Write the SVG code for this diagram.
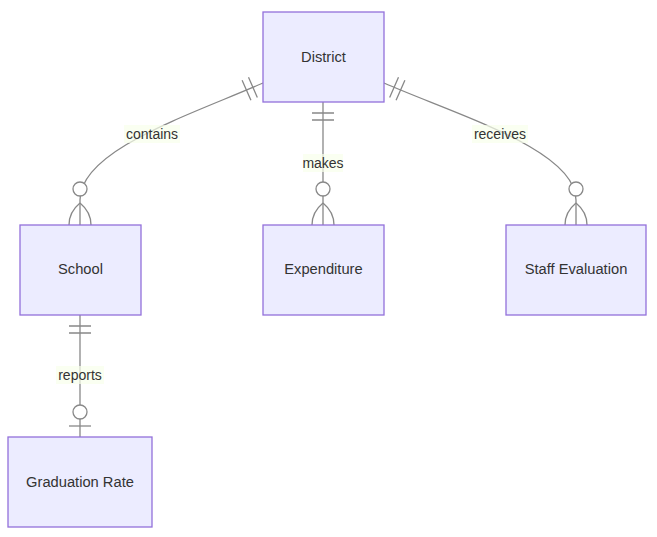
<svg xmlns="http://www.w3.org/2000/svg" width="657" height="537" viewBox="0 0 657 537">
<style>
.box{fill:#ECECFF;stroke:#9370DB;stroke-width:1.3}
.lbl{font-family:"Liberation Sans",Arial,sans-serif;font-size:14px;fill:#333;text-anchor:middle;dominant-baseline:central}
.nl{font-size:14.7px}
.rel{fill:none;stroke:#888;stroke-width:1.3}
.lbg{fill:hsl(80,100%,96%);opacity:0.7}
.mk{fill:none;stroke:#888;stroke-width:1.3}
</style>
<defs>
<marker id="one" markerUnits="userSpaceOnUse" orient="auto-start-reverse" refX="0" refY="0" markerWidth="40" markerHeight="40" viewBox="-30 -15 40 30" overflow="visible">
<path class="mk" d="M-11,-11 L-11,11 M-18,-11 L-18,11"/>
</marker>
<marker id="many0" markerUnits="userSpaceOnUse" orient="auto" refX="0" refY="0" markerWidth="50" markerHeight="40" viewBox="-45 -15 50 30" overflow="visible">
<path class="mk" d="M-22,0 Q-13,-11 0,-11 M-22,0 Q-13,11 0,11"/>
<circle cx="-36" cy="0" r="7" fill="#fff" stroke="#888" stroke-width="1.3"/>
</marker>
<marker id="one0" markerUnits="userSpaceOnUse" orient="auto" refX="0" refY="0" markerWidth="50" markerHeight="40" viewBox="-45 -15 50 30" overflow="visible">
<path class="mk" d="M-11,-11 L-11,11"/>
<circle cx="-25" cy="0" r="7" fill="#fff" stroke="#888" stroke-width="1.3"/>
</marker>
</defs>
<rect width="657" height="537" fill="#fff"/>
<g id="connectors">
<path class="rel" d="M263,83 C190,115 80,150 80,200 L80,225" marker-start="url(#one)" marker-end="url(#many0)"/>
<path class="rel" d="M323,102 L323,225" marker-start="url(#one)" marker-end="url(#many0)"/>
<path class="rel" d="M384,83 C457,115 576,150 576,200 L576,225" marker-start="url(#one)" marker-end="url(#many0)"/>
<path class="rel" d="M80,315 L80,437" marker-start="url(#one)" marker-end="url(#one0)"/>
<rect class="lbg" x="124" y="125" width="56" height="18"/>
<text class="lbl" x="152" y="134">contains</text>
<rect class="lbg" x="303" y="154" width="40" height="18"/>
<text class="lbl" x="323" y="163">makes</text>
<rect class="lbg" x="472" y="125" width="56" height="18"/>
<text class="lbl" x="500" y="134">receives</text>
<rect class="lbg" x="56" y="366" width="48" height="18"/>
<text class="lbl" x="80" y="375">reports</text>
</g>
<g id="District"><rect class="box" x="263" y="12" width="121" height="90"/><text class="lbl nl" x="323.5" y="57">District</text></g>
<g id="School"><rect class="box" x="20" y="225" width="121" height="90"/><text class="lbl nl" x="80.5" y="269">School</text></g>
<g id="Expenditure"><rect class="box" x="263" y="225" width="121" height="90"/><text class="lbl nl" x="323.5" y="269">Expenditure</text></g>
<g id="StaffEvaluation"><rect class="box" x="506" y="225" width="140" height="90"/><text class="lbl nl" x="576" y="269">Staff Evaluation</text></g>
<g id="GraduationRate"><rect class="box" x="8" y="437" width="144" height="90"/><text class="lbl nl" x="80" y="482">Graduation Rate</text></g>
</svg>
